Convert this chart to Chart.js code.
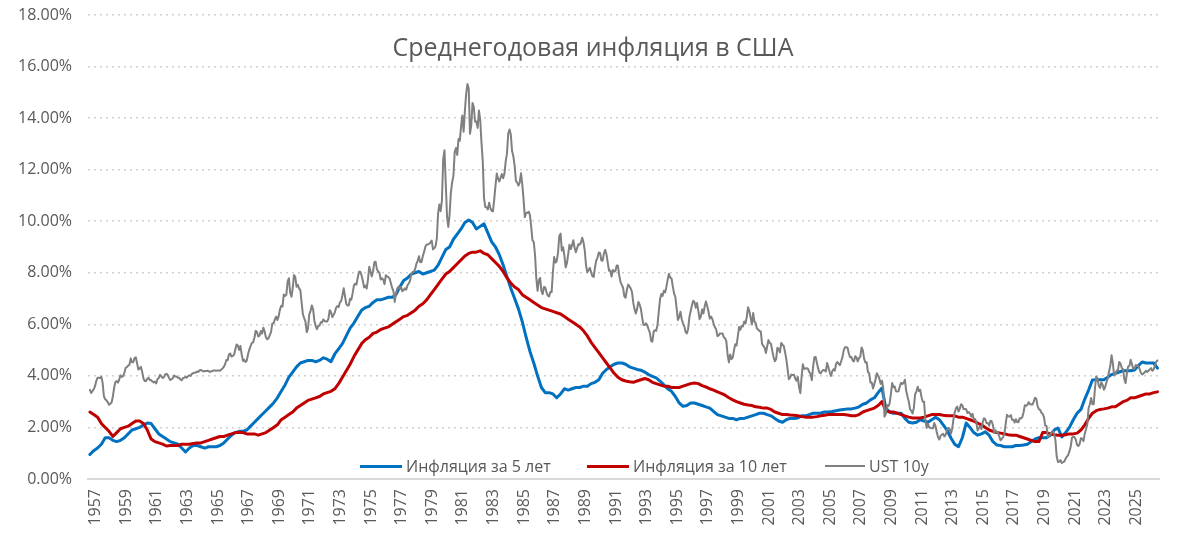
<!DOCTYPE html>
<html>
<head>
<meta charset="utf-8">
<script src="https://cdn.jsdelivr.net/npm/chart.js@4.4.1/dist/chart.umd.min.js"></script>
<style>
html,body{margin:0;padding:0;background:#fff;}
#wrap{position:relative;width:1180px;height:551px;overflow:hidden;}
#title{position:absolute;left:0;width:1186px;top:30px;text-align:center;font-family:'Open Sans',sans-serif;font-size:25px;line-height:32px;color:#595959;white-space:nowrap;}
.lg{position:absolute;top:455px;height:22px;display:flex;align-items:center;font-family:'Open Sans',sans-serif;font-size:16px;color:#595959;white-space:nowrap;}
.ln{display:inline-block;margin-right:4px;}
</style>
</head>
<body>
<div id="wrap">
<canvas id="c" width="1180" height="551"></canvas>
<div id="title">Среднегодовая инфляция в США</div>
<div class="lg" style="left:360px"><span class="ln" style="width:42px;height:3px;background:#0070C0"></span>Инфляция за 5 лет</div>
<div class="lg" style="left:587px"><span class="ln" style="width:42px;height:3px;background:#C00000"></span>Инфляция за 10 лет</div>
<div class="lg" style="left:825px"><span class="ln" style="width:40px;height:2px;background:#808080"></span>UST 10y</div>
</div>
<script>
// Tick labels (every two years)
const tickLabels = ['1957','1959','1961','1963','1965','1967','1969','1971','1973','1975','1977','1979','1981','1983','1985','1987','1989','1991','1993','1995','1997','1999','2001','2003','2005','2007','2009','2011','2013','2015','2017','2019','2021','2023','2025'];
const yTickValues = [0,2,4,6,8,10,12,14,16,18];

// Inflation over 5 years, % (quarterly from 1957 Q1)
const inflation5y = [
0.95,1.1,1.2,1.35, 1.6,1.6,1.5,1.45, 1.5,1.6,1.75,1.9, 1.95,2.0,2.1,2.17,
2.15,1.95,1.75,1.65, 1.55,1.45,1.4,1.35, 1.2,1.05,1.2,1.3, 1.3,1.25,1.2,1.25,
1.25,1.25,1.3,1.4, 1.55,1.7,1.8,1.85, 1.85,1.9,2.05,2.2, 2.35,2.5,2.65,2.8,
2.95,3.15,3.4,3.65, 3.95,4.15,4.35,4.5, 4.55,4.6,4.6,4.55, 4.6,4.7,4.65,4.55,
4.85,5.05,5.25,5.55, 5.85,6.05,6.3,6.55, 6.65,6.7,6.85,6.95, 6.95,7.0,7.05,7.05,
7.15,7.45,7.7,7.8, 7.95,8.0,8.05,7.95, 8.0,8.05,8.1,8.3, 8.6,8.9,9.0,9.3,
9.5,9.7,9.95,10.05, 9.95,9.7,9.8,9.9, 9.55,9.2,9.0,8.7, 8.3,7.85,7.4,7.0,
6.6,6.1,5.5,4.95, 4.5,4.0,3.55,3.35, 3.35,3.3,3.15,3.3, 3.5,3.45,3.5,3.55,
3.55,3.6,3.6,3.7, 3.75,3.85,4.1,4.25, 4.35,4.45,4.5,4.5, 4.45,4.35,4.3,4.25,
4.22,4.15,4.05,3.98, 3.92,3.8,3.65,3.5, 3.4,3.2,2.95,2.82, 2.85,2.95,2.95,2.9,
2.85,2.8,2.75,2.62, 2.5,2.45,2.4,2.35, 2.35,2.3,2.35,2.35, 2.4,2.45,2.5,2.55,
2.55,2.5,2.45,2.35, 2.25,2.2,2.3,2.35, 2.35,2.37,2.45,2.45, 2.5,2.55,2.55,2.56,
2.6,2.6,2.62,2.65, 2.68,2.7,2.72,2.72, 2.75,2.8,2.9,2.95, 3.07,3.15,3.35,3.53,
2.75,2.6,2.55,2.55, 2.55,2.35,2.2,2.17, 2.2,2.3,2.25,2.2, 2.3,2.4,2.3,2.1,
1.9,1.6,1.35,1.25, 1.6,2.17,2.0,1.8, 1.7,1.75,1.83,1.7, 1.45,1.32,1.3,1.25,
1.25,1.25,1.3,1.3, 1.32,1.35,1.45,1.55, 1.6,1.6,1.6,1.7, 1.9,1.98,1.63,1.8,
2.0,2.3,2.55,2.7, 3.1,3.45,3.84,3.85, 3.85,3.85,3.95,4.05, 4.1,4.15,4.2,4.2,
4.2,4.23,4.4,4.54, 4.5,4.5,4.5,4.3
];

// Inflation over 10 years, % (quarterly from 1957 Q1)
const inflation10y = [
2.6,2.5,2.4,2.15, 2.0,1.85,1.65,1.8, 1.95,2.0,2.05,2.15, 2.25,2.25,2.15,1.9,
1.55,1.45,1.4,1.35, 1.28,1.3,1.3,1.3, 1.35,1.35,1.35,1.38, 1.4,1.4,1.45,1.5,
1.55,1.6,1.65,1.65, 1.7,1.75,1.8,1.8, 1.8,1.75,1.75,1.75, 1.7,1.75,1.8,1.9,
2.0,2.1,2.3,2.4, 2.5,2.6,2.75,2.85, 2.95,3.05,3.1,3.15, 3.2,3.3,3.35,3.4,
3.5,3.7,3.95,4.2, 4.45,4.75,5.0,5.25, 5.4,5.5,5.65,5.7, 5.8,5.85,5.9,6.0,
6.1,6.2,6.3,6.35, 6.45,6.55,6.7,6.8, 6.95,7.15,7.35,7.55, 7.75,7.95,8.05,8.2,
8.35,8.5,8.65,8.75, 8.8,8.8,8.85,8.75, 8.7,8.55,8.4,8.25, 8.05,7.8,7.6,7.45,
7.35,7.15,7.05,6.95, 6.85,6.75,6.65,6.6, 6.55,6.5,6.45,6.4, 6.3,6.2,6.1,6.0,
5.9,5.75,5.55,5.3, 5.1,4.9,4.7,4.5, 4.3,4.1,3.95,3.85, 3.8,3.77,3.75,3.8,
3.85,3.9,3.85,3.75, 3.7,3.65,3.6,3.6, 3.55,3.55,3.55,3.6, 3.65,3.7,3.72,3.7,
3.62,3.57,3.5,3.45, 3.38,3.32,3.25,3.15, 3.07,3.0,2.95,2.9, 2.87,2.85,2.8,2.78,
2.75,2.75,2.7,2.6, 2.55,2.5,2.5,2.48, 2.47,2.45,2.42,2.4, 2.4,2.4,2.42,2.45,
2.47,2.5,2.5,2.5, 2.5,2.5,2.48,2.45, 2.45,2.5,2.6,2.65, 2.7,2.75,2.85,3.0,
2.65,2.6,2.6,2.55, 2.5,2.45,2.4,2.37, 2.37,2.37,2.4,2.45, 2.5,2.5,2.5,2.47,
2.45,2.45,2.45,2.4, 2.4,2.35,2.3,2.25, 2.17,2.1,2.0,1.9, 1.85,1.8,1.78,1.75,
1.72,1.7,1.7,1.65, 1.6,1.55,1.5,1.45, 1.45,1.8,1.8,1.75, 1.72,1.7,1.7,1.72,
1.75,1.75,1.78,1.9, 2.1,2.35,2.55,2.65, 2.7,2.72,2.75,2.8, 2.8,2.9,3.0,3.05,
3.15,3.15,3.2,3.25, 3.3,3.3,3.35,3.38
];

// UST 10y yield, % (monthly from Jan 1957)
const ust10y = [
3.46,3.34,3.41,3.48,3.60,3.80,3.93,3.93,3.92,3.97,3.72,3.21,
3.09,3.05,2.98,2.88,2.92,2.97,3.20,3.54,3.76,3.80,3.74,3.86,
4.02,3.96,3.99,4.12,4.31,4.34,4.40,4.43,4.68,4.53,4.53,4.69,
4.72,4.49,4.25,4.28,4.35,4.15,3.90,3.80,3.80,3.89,3.93,3.84,
3.84,3.78,3.74,3.78,3.71,3.88,3.92,4.04,3.98,3.92,3.94,4.06,
4.08,4.04,3.93,3.84,3.87,3.91,4.01,3.98,3.98,3.93,3.92,3.86,
3.83,3.92,3.93,3.97,3.93,3.99,4.02,4.00,4.08,4.11,4.12,4.13,
4.17,4.15,4.22,4.23,4.20,4.17,4.19,4.19,4.20,4.19,4.15,4.18,
4.19,4.21,4.21,4.20,4.21,4.21,4.20,4.25,4.29,4.35,4.45,4.62,
4.61,4.83,4.87,4.75,4.78,4.81,5.02,5.22,5.18,5.01,5.16,4.84,
4.58,4.63,4.54,4.59,4.85,5.02,5.16,5.28,5.30,5.48,5.75,5.70,
5.53,5.56,5.74,5.64,5.87,5.72,5.50,5.42,5.46,5.58,5.70,6.03,
6.04,6.19,6.30,6.17,6.32,6.57,6.72,6.69,7.16,7.10,7.14,7.65,
7.79,7.24,7.07,7.39,7.91,7.84,7.46,7.53,7.39,7.33,6.84,6.39,
6.24,6.11,5.70,5.83,6.39,6.52,6.73,6.58,6.14,5.93,5.81,5.93,
5.95,6.08,6.07,6.19,6.13,6.11,6.11,6.21,6.55,6.48,6.28,6.36,
6.46,6.64,6.71,6.67,6.85,6.90,7.13,7.40,7.09,6.79,6.73,6.74,
6.99,6.96,7.21,7.51,7.58,7.54,7.81,8.04,8.04,7.90,7.68,7.43,
7.50,7.39,7.73,8.23,8.06,7.86,8.06,8.40,8.43,8.14,8.05,8.00,
7.74,7.79,7.73,7.56,7.90,7.86,7.83,7.77,7.59,7.41,7.29,6.87,
7.21,7.39,7.46,7.37,7.46,7.28,7.33,7.40,7.34,7.52,7.58,7.69,
7.96,8.03,8.04,8.15,8.35,8.46,8.64,8.41,8.42,8.64,8.81,9.01,
9.10,9.10,9.12,9.18,9.25,8.91,8.95,9.03,9.33,10.30,10.65,10.39,
10.80,12.41,12.75,11.47,10.18,9.78,10.25,11.10,11.51,11.75,12.68,12.84,
12.57,13.19,13.12,13.68,14.10,13.47,14.28,14.94,15.32,15.15,13.39,13.72,
14.59,14.43,13.86,13.87,13.62,14.30,13.95,13.06,12.34,10.91,10.55,10.54,
10.46,10.72,10.51,10.40,10.38,10.85,11.38,11.85,11.65,11.54,11.69,11.83,
11.67,11.84,12.32,12.63,13.41,13.56,13.36,12.72,12.52,12.16,11.57,11.50,
11.38,11.51,11.86,11.43,10.85,10.16,10.31,10.33,10.37,10.24,9.78,9.26,
9.19,8.70,7.78,7.30,7.71,7.80,7.30,7.17,7.45,7.43,7.25,7.11,
7.08,7.25,7.25,8.02,8.61,8.40,8.45,8.76,9.42,9.52,8.86,8.99,
8.67,8.21,8.37,8.72,9.09,8.92,9.06,9.26,8.98,8.80,8.96,9.11,
9.09,9.17,9.36,9.18,8.86,8.28,8.02,8.11,8.19,8.01,7.87,7.84,
8.21,8.47,8.59,8.79,8.76,8.48,8.47,8.75,8.89,8.72,8.39,8.08,
8.09,7.85,8.11,8.04,8.07,8.28,8.27,7.90,7.65,7.53,7.42,7.09,
7.03,7.34,7.54,7.48,7.39,7.26,6.84,6.59,6.42,6.59,6.87,6.77,
6.60,6.26,5.98,5.97,6.04,5.96,5.81,5.68,5.36,5.33,5.72,5.77,
5.75,5.97,6.48,6.97,7.18,7.10,7.30,7.24,7.46,7.74,7.96,7.81,
7.78,7.47,7.20,7.06,6.63,6.17,6.28,6.49,6.20,6.04,5.93,5.71,
5.65,5.81,6.27,6.51,6.74,6.91,6.87,6.64,6.83,6.53,6.20,6.30,
6.58,6.42,6.69,6.89,6.71,6.49,6.22,6.30,6.21,6.03,5.88,5.81,
5.54,5.57,5.65,5.64,5.65,5.50,5.46,5.34,4.81,4.53,4.83,4.65,
4.72,5.00,5.23,5.18,5.54,5.90,5.79,5.94,5.92,6.11,6.03,6.28,
6.66,6.52,6.26,5.99,6.44,6.10,6.05,5.83,5.80,5.74,5.72,5.24,
5.16,5.10,4.89,5.14,5.39,5.28,5.24,4.97,4.73,4.57,4.65,5.09,
5.04,4.91,5.28,5.21,5.16,4.93,4.65,4.26,3.87,3.94,4.05,4.03,
4.05,3.90,3.81,3.96,3.57,3.33,3.98,4.45,4.27,4.29,4.30,4.27,
4.15,4.08,3.83,4.35,4.72,4.73,4.50,4.28,4.13,4.10,4.19,4.23,
4.22,4.17,4.50,4.34,4.14,4.00,4.18,4.26,4.20,4.46,4.54,4.47,
4.42,4.57,4.72,4.99,5.11,5.11,5.09,4.88,4.72,4.73,4.60,4.56,
4.76,4.72,4.56,4.69,4.75,5.10,5.00,4.67,4.52,4.53,4.15,4.10,
3.74,3.74,3.51,3.68,3.88,4.10,4.01,3.89,3.69,3.81,3.53,2.42,
2.52,2.87,2.82,2.93,3.29,3.72,3.56,3.59,3.40,3.39,3.40,3.59,
3.73,3.69,3.73,3.85,3.42,3.20,3.01,2.70,2.65,2.54,2.76,3.29,
3.39,3.58,3.41,3.46,3.17,3.00,3.00,2.30,1.98,2.15,2.01,1.98,
1.97,1.97,2.17,2.05,1.80,1.62,1.53,1.68,1.72,1.75,1.65,1.72,
1.91,1.98,1.96,1.76,1.93,2.30,2.58,2.74,2.81,2.62,2.72,2.90,
2.86,2.71,2.72,2.71,2.56,2.60,2.54,2.42,2.53,2.30,2.33,2.21,
1.88,1.98,2.04,1.94,2.20,2.36,2.32,2.17,2.17,2.07,2.26,2.24,
2.09,1.78,1.89,1.81,1.81,1.64,1.50,1.56,1.63,1.76,2.14,2.49,
2.43,2.42,2.48,2.30,2.30,2.19,2.32,2.21,2.20,2.36,2.35,2.40,
2.58,2.86,2.84,2.87,2.98,2.91,2.89,2.89,3.00,3.15,3.12,2.83,
2.71,2.68,2.57,2.53,2.40,2.07,2.06,1.63,1.70,1.71,1.81,1.86,
1.76,1.50,0.87,0.66,0.67,0.73,0.62,0.65,0.68,0.79,0.87,0.93,
1.08,1.26,1.61,1.64,1.62,1.52,1.32,1.28,1.37,1.58,1.56,1.47,
1.76,1.93,2.13,2.75,2.90,3.14,2.90,2.90,3.52,3.98,3.89,3.62,
3.53,3.75,3.66,3.46,3.57,3.75,3.90,4.17,4.38,4.80,4.50,4.02,
4.06,4.21,4.21,4.54,4.48,4.31,4.25,3.87,3.72,4.10,4.36,4.39,
4.63,4.45,4.28,4.28,4.42,4.38,4.39,4.26,4.12,4.06,4.09,4.14,
4.20,4.15,4.20,4.25,4.30,4.20,4.25,4.40,4.55,4.60
];

const startYear = 1957;
const quarterly = arr => arr.map((v, i) => ({ x: startYear + i / 4, y: v }));
const monthly = arr => arr.map((v, i) => ({ x: startYear + i / 12, y: v }));

const TXT = '#595959';
const FONT = "'Open Sans', sans-serif";

new Chart(document.getElementById('c'), {
  type: 'line',
  data: {
    datasets: [
      { label: 'Инфляция за 5 лет', data: quarterly(inflation5y), borderColor: '#0070C0', borderWidth: 3, order: 2 },
      { label: 'Инфляция за 10 лет', data: quarterly(inflation10y), borderColor: '#C00000', borderWidth: 3, order: 1 },
      { label: 'UST 10y', data: monthly(ust10y), borderColor: '#808080', borderWidth: 2, order: 0 }
    ]
  },
  options: {
    responsive: false,
    animation: false,
    devicePixelRatio: 1,
    elements: { point: { radius: 0 }, line: { tension: 0, borderJoinStyle: 'round', borderCapStyle: 'round' } },
    layout: { padding: { top: 15, right: 21, left: 0, bottom: 0 } },
    plugins: { legend: { display: false }, title: { display: false }, tooltip: { enabled: false } },
    scales: {
      x: {
        type: 'linear',
        min: 1956.876,
        max: 2026.85,
        afterBuildTicks: s => { s.ticks = tickLabels.map(l => ({ value: Number(l) + 0.37 })); },
        afterFit: s => { s.height = 72; },
        grid: { display: false, drawTicks: false },
        border: { display: true, color: '#d9d9d9', width: 2 },
        ticks: {
          autoSkip: false, minRotation: 90, maxRotation: 90, padding: 10,
          color: TXT, font: { family: FONT, size: 16 },
          callback: (v, i) => tickLabels[i]
        }
      },
      y: {
        min: 0, max: 18,
        afterBuildTicks: s => { s.ticks = yTickValues.map(v => ({ value: v })); },
        afterFit: s => { s.width = 88; s.paddingTop = 0; s.paddingBottom = 0; },
        grid: { color: '#d0d0d0', lineWidth: 1.5, drawTicks: false },
        border: { display: false, dash: [2, 4] },
        ticks: {
          padding: 16, color: TXT, font: { family: FONT, size: 16 },
          callback: v => v.toFixed(2) + '%'
        }
      }
    }
  }
});
</script>
</body>
</html>
